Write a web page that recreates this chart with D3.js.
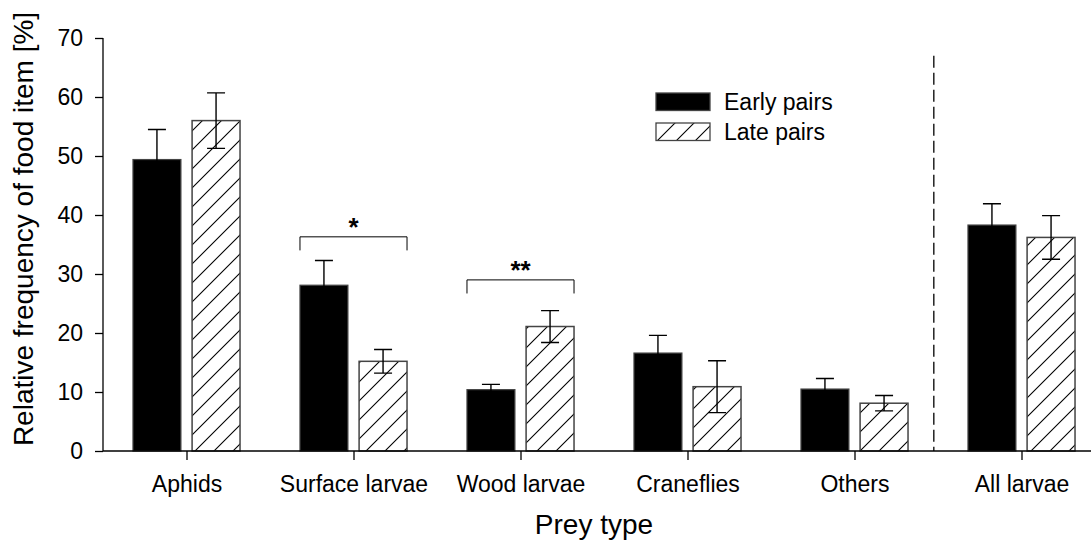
<!DOCTYPE html>
<html>
<head>
<meta charset="utf-8">
<script src="https://cdn.jsdelivr.net/npm/d3@7"></script>
<style>
  html, body { margin: 0; padding: 0; background: #fff; }
  svg { display: block; font-family: "Liberation Sans", Arial, sans-serif; }
</style>
</head>
<body>
<svg id="chart" width="1091" height="540"></svg>
<script>
// Prey categories along the x axis
const categories = ["Aphids", "Surface larvae", "Wood larvae", "Craneflies", "Others", "All larvae"];
// Mean relative frequency [%] and standard error per group
const earlyValues = [49.4, 28.1, 10.4, 16.6, 10.5, 38.3];
const earlyErrors = [5.1, 4.2, 0.9, 3.0, 1.8, 3.6];
const lateValues  = [56.0, 15.2, 21.1, 10.9, 8.1, 36.2];
const lateErrors  = [4.7, 2.0, 2.7, 4.4, 1.3, 3.7];
const seriesNames = ["Early pairs", "Late pairs"];
const yTicks = [0, 10, 20, 30, 40, 50, 60, 70];
// Significance brackets: category index, bracket level [%], label
const brackets = [
  { cat: 1, level: 36.3, label: "*" },
  { cat: 2, level: 29.0, label: "**" }
];
// Dashed separator between single prey types and the pooled column
const dividerAt = 5.475;

const svg = d3.select("#chart");
const margin = { left: 103, top: 38, bottom: 89 };
const H = 540;

const x = d3.scaleLinear().domain([0.5, 6.5]).range([margin.left, margin.left + 6 * 167]);
const y = d3.scaleLinear().domain([0, 70]).range([H - margin.bottom, margin.top]);
const step = x(1) - x(0);
const barW = step * 0.287;
const barOff = step * 0.177;

// Hatch pattern for late pairs
const defs = svg.append("defs");
const pat = defs.append("pattern")
  .attr("id", "hatch").attr("patternUnits", "userSpaceOnUse")
  .attr("width", 19).attr("height", 19);
pat.append("rect").attr("width", 19).attr("height", 19).attr("fill", "#fff");
pat.append("path").attr("d", "M-2,21 L21,-2 M-2,2 L2,-2 M17,21 L21,17")
  .attr("stroke", "#000").attr("stroke-width", 1.1);

const rows = categories.map((c, i) => ({
  i: i + 1, early: earlyValues[i], earlyErr: earlyErrors[i],
  late: lateValues[i], lateErr: lateErrors[i]
}));

// Dashed divider
svg.append("line")
  .attr("x1", x(dividerAt)).attr("x2", x(dividerAt))
  .attr("y1", y(67)).attr("y2", y(0))
  .attr("stroke", "#000").attr("stroke-width", 1.3)
  .attr("stroke-dasharray", "12,5");

// Bars
const g = svg.append("g");
g.selectAll("rect.early").data(rows).join("rect")
  .attr("class", "early")
  .attr("x", d => x(d.i) - barOff - barW / 2)
  .attr("y", d => y(d.early))
  .attr("width", barW)
  .attr("height", d => y(0) - y(d.early))
  .attr("fill", "#000").attr("stroke", "#444").attr("stroke-width", 1.2);

g.selectAll("rect.late").data(rows).join("rect")
  .attr("class", "late")
  .attr("x", d => x(d.i) + barOff - barW / 2)
  .attr("y", d => y(d.late))
  .attr("width", barW)
  .attr("height", d => y(0) - y(d.late))
  .attr("fill", "url(#hatch)").attr("stroke", "#444").attr("stroke-width", 1.5);

// Error bars
const cap = 9;
function errPath(cx, v, e) {
  return `M${cx},${y(v - e)}V${y(v + e)}M${cx - cap},${y(v + e)}H${cx + cap}M${cx - cap},${y(v - e)}H${cx + cap}`;
}
g.selectAll("path.eerr").data(rows).join("path")
  .attr("d", d => errPath(x(d.i) - barOff, d.early, d.earlyErr))
  .attr("stroke", "#000").attr("stroke-width", 1.4).attr("fill", "none");
g.selectAll("path.lerr").data(rows).join("path")
  .attr("d", d => errPath(x(d.i) + barOff, d.late, d.lateErr))
  .attr("stroke", "#000").attr("stroke-width", 1.4).attr("fill", "none");

// Significance brackets
brackets.forEach(b => {
  const cx = x(b.cat + 1);
  const x0 = cx - barOff - barW / 2, x1 = cx + barOff + barW / 2;
  svg.append("path")
    .attr("d", `M${x0},${y(b.level - 2.3)}V${y(b.level)}H${x1}V${y(b.level - 2.3)}`)
    .attr("fill", "none").attr("stroke", "#000").attr("stroke-width", 1);
  svg.append("text")
    .attr("x", (x0 + x1) / 2).attr("y", y(b.level) - 1)
    .attr("text-anchor", "middle")
    .attr("font-size", 26).attr("font-weight", "bold")
    .text(b.label);
});

// Y axis
const yAxis = svg.append("g")
  .attr("transform", `translate(${margin.left},0)`)
  .call(d3.axisLeft(y).tickValues(yTicks).tickSize(8).tickPadding(12));
yAxis.selectAll("text").attr("font-size", 23).attr("fill", "#000")
  .attr("font-family", "Liberation Sans, Arial, sans-serif");
yAxis.selectAll("line").attr("stroke", "#000").attr("stroke-width", 1.3);
yAxis.select(".domain").attr("stroke", "#000").attr("stroke-width", 1.3)
  .attr("d", `M0,${y(70)}V${y(0)}`);

// X axis
const xAxis = svg.append("g")
  .attr("transform", `translate(0,${y(0)})`)
  .call(d3.axisBottom(x).tickValues(d3.range(1, 7))
    .tickFormat(d => categories[d - 1]).tickSize(9).tickPadding(16));
xAxis.selectAll("text").attr("font-size", 23).attr("fill", "#000")
  .attr("font-family", "Liberation Sans, Arial, sans-serif");
xAxis.selectAll("line").attr("stroke", "#000").attr("stroke-width", 1.3);
xAxis.select(".domain").attr("stroke", "#000").attr("stroke-width", 1.3)
  .attr("d", `M${margin.left},0H1091`);

// Axis titles
svg.append("text")
  .attr("transform", `translate(33,229) rotate(-90)`)
  .attr("text-anchor", "middle").attr("font-size", 28)
  .text("Relative frequency of food item [%]");
svg.append("text")
  .attr("x", 594).attr("y", 534)
  .attr("text-anchor", "middle").attr("font-size", 28)
  .text("Prey type");

// Legend
const legend = svg.append("g").attr("transform", "translate(656,93)");
seriesNames.forEach((name, k) => {
  const row = legend.append("g").attr("transform", `translate(0,${k * 30})`);
  row.append("rect").attr("width", 54).attr("height", 17.5)
    .attr("fill", k === 0 ? "#000" : "url(#hatch)")
    .attr("stroke", "#444").attr("stroke-width", 1.3);
  row.append("text").attr("x", 68).attr("y", 16.5)
    .attr("font-size", 23).text(name);
});
</script>
</body>
</html>
